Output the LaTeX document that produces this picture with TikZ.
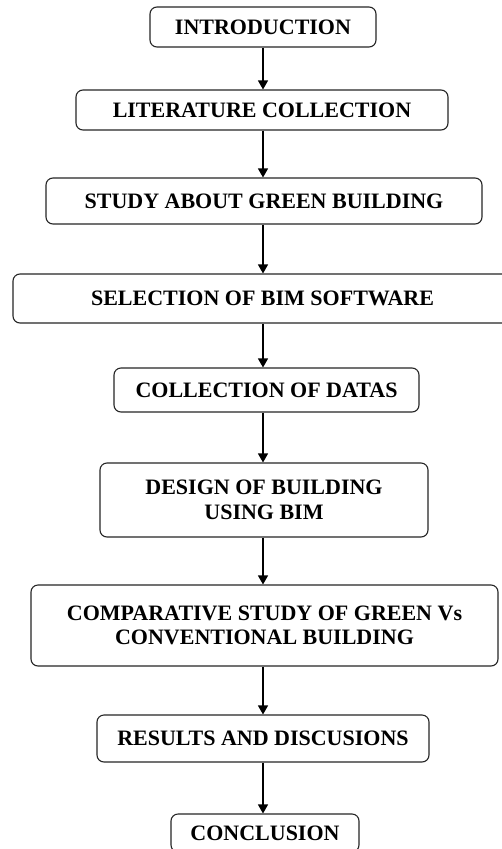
\documentclass[tikz,border=0pt]{standalone}
\usepackage{fontspec}
\setmainfont{Liberation Serif}
\usetikzlibrary{arrows.meta}
\begin{document}
\begin{tikzpicture}[x=1pt,y=-1pt,
  stepbox/.style={draw=black!85,line width=1.1pt,rounded corners=7pt,inner sep=0pt,
    align=center,font=\bfseries\fontsize{22}{24.5}\selectfont,text=black},
  flow/.style={draw=black,line width=1.2pt,-{Triangle[length=9pt,width=10pt]}}]
\useasboundingbox (0,0) rectangle (502,849);
\clip (0,0) rectangle (502,849);
\fill[white] (0,0) rectangle (502,849);
\coordinate (axis) at (263,0);
\node[stepbox,minimum width=226pt,minimum height=40pt] (n1) at (263,27) {INTRODUCTION};
\node[stepbox,minimum width=372pt,minimum height=40pt] (n2) at (262,110) {LITERATURE COLLECTION};
\node[stepbox,minimum width=436pt,minimum height=46pt] (n3) at (264,201) {STUDY ABOUT GREEN BUILDING};
\node[stepbox,minimum width=499pt,minimum height=49pt] (n4) at (262.5,298.5) {SELECTION OF BIM SOFTWARE};
\node[stepbox,minimum width=305pt,minimum height=44pt] (n5) at (266.5,390) {COLLECTION OF DATAS};
\node[stepbox,minimum width=328pt,minimum height=74pt] (n6) at (264,500) {DESIGN OF BUILDING\\USING BIM};
\node[stepbox,minimum width=467pt,minimum height=81pt] (n7) at (264.5,625.5) {COMPARATIVE STUDY OF GREEN Vs\\CONVENTIONAL BUILDING};
\node[stepbox,minimum width=332pt,minimum height=47pt] (n8) at (263,738.5) {RESULTS AND DISCUSIONS};
\node[stepbox,minimum width=188pt,minimum height=38pt] (n9) at (265,833) {CONCLUSION};
\foreach \a/\b in {n1/n2,n2/n3,n3/n4,n4/n5,n5/n6,n6/n7,n7/n8,n8/n9}
  \draw[flow] (\a.south -| axis) -- (\b.north -| axis);
\end{tikzpicture}
\end{document}
